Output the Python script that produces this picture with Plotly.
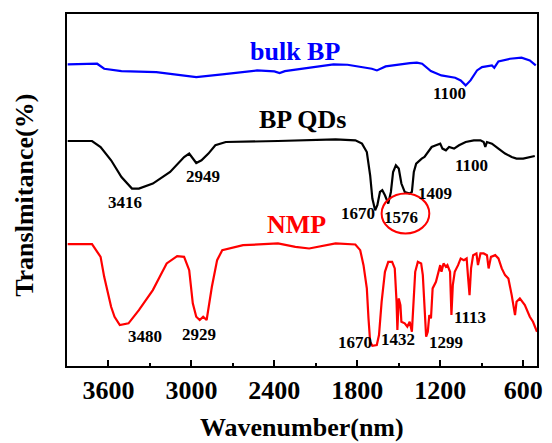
import plotly.graph_objects as go

# FTIR spectra (wavenumber in cm^-1, transmittance in arbitrary offset units)
wn_bulk = [3895, 3682, 3631, 3506, 3254, 2965, 2777, 2525, 2400, 2362, 2324, 1972, 1871,
           1695, 1658, 1595, 1419, 1369, 1331, 1268, 1192, 1148, 1092, 1052, 1016,
           981, 934, 898, 826, 809, 779, 695, 612, 552, 509]
t_bulk = [302.0, 302.7, 297.7, 295.3, 294.3, 289.3, 292.0, 296.0, 295.0, 293.3, 295.3, 302.0, 301.7,
          297.7, 296.0, 300.0, 303.3, 303.7, 302.7, 295.3, 291.0, 290.0, 288.7, 286.0, 281.0,
          286.0, 296.0, 299.3, 301.0, 298.7, 305.0, 307.7, 308.7, 306.0, 301.0]

wn_qds = [3895, 3719, 3657, 3581, 3506, 3430, 3380, 3279, 3154, 3053, 3016, 2965, 2927,
          2877, 2827, 2751, 2374, 1957, 1814, 1766, 1731, 1707, 1691, 1671, 1655, 1636,
          1619, 1600, 1576, 1557, 1541, 1521, 1500, 1481, 1457, 1421, 1405, 1391, 1374,
          1350, 1334, 1314, 1291, 1262, 1231, 1200, 1184, 1159, 1136, 1100, 1064, 1016,
          957, 909, 886, 874, 862, 826, 779, 731, 683, 648, 600, 552, 516]
t_qds = [225.3, 225.3, 219.3, 206.0, 189.3, 177.7, 177.7, 182.7, 194.3, 209.3, 212.7, 203.3, 206.0,
         212.7, 221.0, 224.3, 225.3, 227.0, 226.0, 222.7, 214.3, 191.0, 167.7, 156.0, 161.0, 174.3,
         176.0, 171.0, 162.7, 174.3, 194.3, 201.0, 197.7, 182.7, 174.3, 172.7, 174.3, 194.3, 202.7,
         206.0, 207.7, 209.3, 214.3, 219.3, 221.0, 222.7, 217.7, 216.0, 219.3, 217.7, 221.0, 224.3,
         226.0, 226.0, 224.3, 219.3, 224.3, 222.7, 217.7, 212.7, 209.3, 207.7, 207.7, 209.3, 210.3]

wn_nmp = [3895, 3719, 3657, 3631, 3581, 3556, 3518, 3455, 3380, 3330, 3279, 3229, 3179, 3103,
          3053, 3016, 2990, 2965, 2940, 2915, 2890, 2852, 2814, 2777, 2626, 2374, 2248, 2148,
          1997, 1957, 1814, 1779, 1755, 1731, 1719, 1707, 1691, 1659, 1643, 1624, 1600, 1576,
          1548, 1529, 1516, 1510, 1500, 1488, 1481, 1457, 1438, 1421, 1405, 1393, 1381,
          1362, 1338, 1326, 1314, 1302, 1290, 1279, 1267, 1255, 1231, 1214, 1200, 1191,
          1176, 1159, 1148, 1129, 1119, 1109, 1095, 1071, 1052, 1029, 1009, 998, 988,
          977, 962, 938, 927, 909, 886, 862, 850, 833, 802, 779, 755, 731, 707, 683,
          659, 648, 624, 588, 552, 529, 500]
t_nmp = [122.0, 122.0, 109.3, 89.3, 59.3, 49.3, 41.0, 42.7, 56.0, 66.0, 76.0, 89.3, 102.7, 110.0,
         109.3, 96.0, 62.7, 49.3, 46.0, 49.3, 46.0, 79.3, 106.0, 116.0, 121.0, 122.7, 119.3, 117.7,
         122.0, 122.7, 121.7, 116.0, 101.0, 77.7, 47.7, 24.3, 20.3, 21.0, 31.0, 64.3, 94.3, 104.3,
         104.3, 97.7, 64.3, 36.0, 67.7, 61.0, 44.3, 42.7, 39.3, 44.3, 34.3, 64.3, 94.3,
         104.3, 102.7, 91.0, 54.3, 29.3, 34.3, 51.0, 47.7, 77.7, 84.3, 94.3, 101.0, 94.3,
         102.7, 99.3, 101.0, 94.3, 51.0, 81.0, 94.3, 101.0, 107.7, 106.0, 107.7, 87.7, 71.0,
         97.7, 111.0, 112.7, 101.0, 112.7, 112.7, 111.0, 97.7, 109.3, 111.0, 107.7, 97.7, 91.0, 87.7, 71.0,
         51.0, 64.3, 67.7, 61.0, 49.3, 44.3, 34.3]

# Peak labels: (text, wavenumber, y)
peak_bulk = [("1100", 1136, 272.7)]
peak_qds = [("3416", 3481, 163.5), ("2949", 2914, 190.2), ("1670", 1796, 152.7),
            ("1576", 1481, 148.5), ("1409", 1239, 172.7), ("1100", 975, 201.0)]
peak_nmp = [("3480", 3336, 29.3), ("2929", 2945, 32.0), ("1670", 1820, 23.5),
            ("1432", 1505, 26.8), ("1299", 1159, 23.5), ("1113", 987, 48.5)]

# Sample names: (text, wavenumber, y, colour)
names = [("bulk BP", 2250, 315, "#0000ff"), ("BP QDs", 2193, 247, "#000000"),
         ("NMP", 2243, 142, "#ff0000")]

FONT = "Liberation Serif"

fig = go.Figure()
for wn, t, col in [(wn_bulk, t_bulk, "#0000ff"), (wn_qds, t_qds, "#000000"), (wn_nmp, t_nmp, "#ff0000")]:
    fig.add_trace(go.Scatter(x=wn, y=t, mode="lines", line=dict(color=col, width=2.2),
                             showlegend=False, hoverinfo="skip"))

annotations = []
for text, x, y in peak_bulk + peak_qds + peak_nmp:
    annotations.append(dict(x=x, y=y, xref="x", yref="y", text=text, showarrow=False,
                            font=dict(family=FONT, size=17, color="#000000", weight="bold")))
for text, x, y, col in names:
    annotations.append(dict(x=x, y=y, xref="x", yref="y", text=text, showarrow=False,
                            font=dict(family=FONT, size=26, color=col, weight="bold")))
annotations.append(dict(x=0.5, y=-0.176, xref="paper", yref="paper", text="Wavenumber(nm)",
                        xanchor="center", yanchor="middle", showarrow=False,
                        font=dict(family=FONT, size=26, color="#000000", weight="bold")))
annotations.append(dict(x=-0.0903, y=0.485, xref="paper", yref="paper", text="Translmitance(%)",
                        xanchor="center", yanchor="middle", textangle=-90, showarrow=False,
                        font=dict(family=FONT, size=26, color="#000000", weight="bold")))

# circle marking the 1576 band
fig.add_shape(type="circle", xref="x", yref="y", x0=1624, x1=1279, y0=132.7, y1=172.7,
              line=dict(color="#ff0000", width=2))

fig.update_layout(
    width=552, height=443,
    margin=dict(l=67, r=9, t=13.5, b=77),
    paper_bgcolor="white", plot_bgcolor="white",
    annotations=annotations,
    xaxis=dict(range=[3900, 500], tickvals=[3600, 3000, 2400, 1800, 1200, 600],
               ticks="inside", ticklen=6, tickwidth=2, tickcolor="black",
               minor=dict(ticks="inside", ticklen=3, tickwidth=2, tickcolor="black",
                          tickvals=[3300, 2700, 2100, 1500, 900]),
               showline=True, linewidth=2, linecolor="black", mirror=True,
               showgrid=False, zeroline=False,
               tickfont=dict(family=FONT, size=26, color="black", weight="bold")),
    yaxis=dict(range=[0, 352.5], showticklabels=False, ticks="",
               showline=True, linewidth=2, linecolor="black", mirror=True,
               showgrid=False, zeroline=False),
)

fig.write_html("out.html")
